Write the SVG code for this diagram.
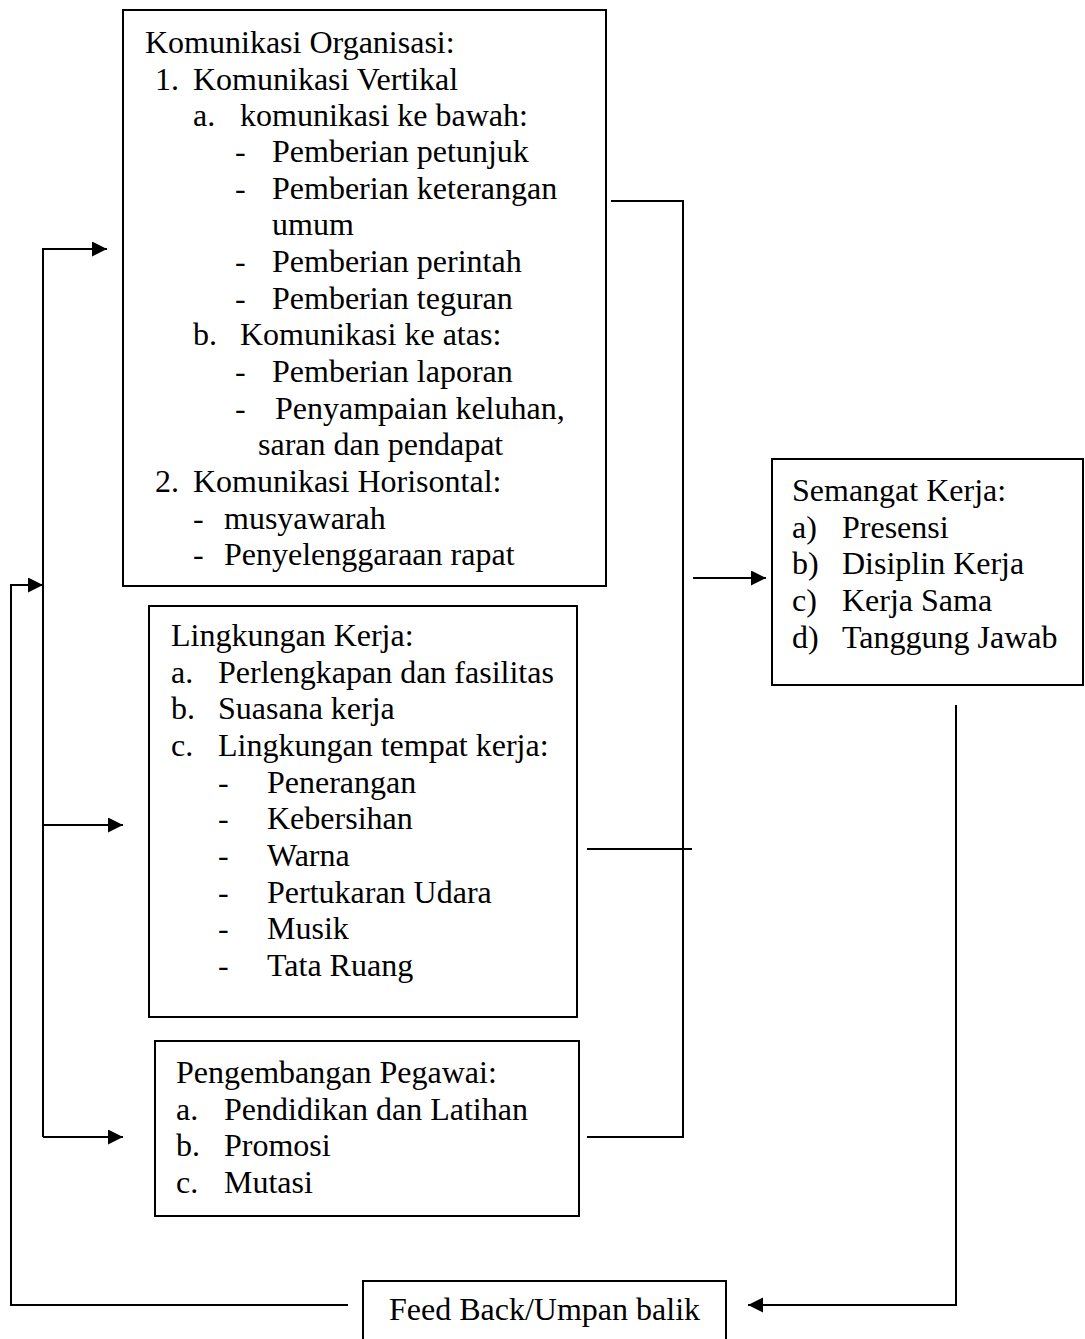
<svg xmlns="http://www.w3.org/2000/svg" width="1085" height="1339" viewBox="0 0 1085 1339">
<style>
.box{fill:#fff;stroke:#000;stroke-width:2}
.ln{fill:none;stroke:#000;stroke-width:2}
text{font-family:"Liberation Serif","Times New Roman",serif;font-size:32px;fill:#000}
</style>
<defs>
<marker id="ah" markerUnits="userSpaceOnUse" markerWidth="16" markerHeight="16" refX="15" refY="7.5" orient="auto">
<path d="M0,0 L15,7.5 L0,15 Z" fill="#000"/>
</marker>
</defs>
<rect width="1085" height="1339" fill="#fff"/>
<g id="connectors">
<path class="ln" d="M43,1137 V249 H107" marker-end="url(#ah)"/>
<path class="ln" d="M43,825 H123" marker-end="url(#ah)"/>
<path class="ln" d="M43,1137 H123" marker-end="url(#ah)"/>
<path class="ln" d="M348,1305 H11 V585 H43" marker-end="url(#ah)"/>
<path class="ln" d="M611,201 H683 V1137 H587"/>
<path class="ln" d="M587,849 H692"/>
<path class="ln" d="M693,578 H766" marker-end="url(#ah)"/>
<path class="ln" d="M956,705 V1305 H748" marker-end="url(#ah)"/>
</g>
<g id="komunikasi">
<rect class="box" x="123" y="10" width="483" height="576"/>
<text x="145" y="53">Komunikasi Organisasi:</text>
<text x="155" y="89.7">1.</text><text x="193" y="89.7">Komunikasi Vertikal</text>
<text x="193" y="126.4">a.</text><text x="240" y="126.4">komunikasi ke bawah:</text>
<text x="235" y="162">-</text><text x="272" y="162">Pemberian petunjuk</text>
<text x="235" y="198.7">-</text><text x="272" y="198.7">Pemberian keterangan</text>
<text x="272" y="235.4">umum</text>
<text x="235" y="272">-</text><text x="272" y="272">Pemberian perintah</text>
<text x="235" y="308.7">-</text><text x="272" y="308.7">Pemberian teguran</text>
<text x="193" y="345.4">b.</text><text x="240" y="345.4">Komunikasi ke atas:</text>
<text x="235" y="382">-</text><text x="272" y="382">Pemberian laporan</text>
<text x="235" y="418.7">-</text><text x="275" y="418.7">Penyampaian keluhan,</text>
<text x="258" y="455.4">saran dan pendapat</text>
<text x="155" y="492">2.</text><text x="193" y="492">Komunikasi Horisontal:</text>
<text x="193" y="528.7">-</text><text x="224" y="528.7">musyawarah</text>
<text x="193" y="565.4">-</text><text x="224" y="565.4">Penyelenggaraan rapat</text>
</g>
<g id="lingkungan">
<rect class="box" x="149" y="606" width="428" height="411"/>
<text x="171" y="646">Lingkungan Kerja:</text>
<text x="171" y="682.7">a.</text><text x="218" y="682.7">Perlengkapan dan fasilitas</text>
<text x="171" y="719.4">b.</text><text x="218" y="719.4">Suasana kerja</text>
<text x="171" y="756">c.</text><text x="218" y="756">Lingkungan tempat kerja:</text>
<text x="218" y="792.7">-</text><text x="267" y="792.7">Penerangan</text>
<text x="218" y="829.4">-</text><text x="267" y="829.4">Kebersihan</text>
<text x="218" y="866">-</text><text x="267" y="866">Warna</text>
<text x="218" y="902.7">-</text><text x="267" y="902.7">Pertukaran Udara</text>
<text x="218" y="939.4">-</text><text x="267" y="939.4">Musik</text>
<text x="218" y="976">-</text><text x="267" y="976">Tata Ruang</text>
</g>
<g id="pengembangan">
<rect class="box" x="155" y="1041" width="424" height="175"/>
<text x="176" y="1083">Pengembangan Pegawai:</text>
<text x="176" y="1119.7">a.</text><text x="224" y="1119.7">Pendidikan dan Latihan</text>
<text x="176" y="1156.4">b.</text><text x="224" y="1156.4">Promosi</text>
<text x="176" y="1193">c.</text><text x="224" y="1193">Mutasi</text>
</g>
<g id="semangat">
<rect class="box" x="772" y="459" width="311" height="226"/>
<text x="792" y="501">Semangat Kerja:</text>
<text x="792" y="537.7">a)</text><text x="842" y="537.7">Presensi</text>
<text x="792" y="574.4">b)</text><text x="842" y="574.4">Disiplin Kerja</text>
<text x="792" y="611">c)</text><text x="842" y="611">Kerja Sama</text>
<text x="792" y="647.7">d)</text><text x="842" y="647.7">Tanggung Jawab</text>
</g>
<g id="feedback">
<rect class="box" x="363" y="1281" width="363" height="80"/>
<text x="389" y="1320">Feed Back/Umpan balik</text>
</g>
</svg>
